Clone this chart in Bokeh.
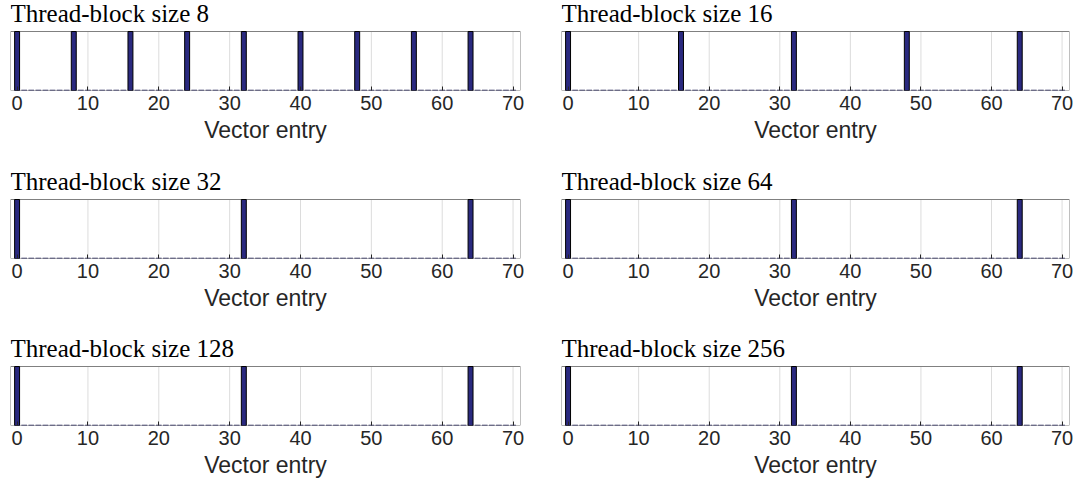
from bokeh.plotting import figure
from bokeh.layouts import column, row
from bokeh.models import Range1d, FixedTicker
from bokeh.core.properties import value
from bokeh.embed import file_html
from bokeh.resources import INLINE

# ---- data ----
block_sizes = [8, 16, 32, 64, 128, 256]
entries = list(range(0, 71))
hits_8 = [0, 8, 16, 24, 32, 40, 48, 56, 64]
hits_16 = [0, 16, 32, 48, 64]
hits_32 = [0, 32, 64]
hits_64 = [0, 32, 64]
hits_128 = [0, 32, 64]
hits_256 = [0, 32, 64]
all_hits = [hits_8, hits_16, hits_32, hits_64, hits_128, hits_256]
x_ticks = [0, 10, 20, 30, 40, 50, 60, 70]
X_MIN, X_MAX = -0.93, 71.05

BAR_FILL = "#2a297f"
TICK_COLOR = "#262626"

ROW_HEIGHTS = [168, 167, 155]
ROW_BOTTOM = [78, 77, 65]
BOX_PX = 59.0          # height of the bar box in pixels
FRAME_PX = 90.0        # frame height (box + title strip)
Y_TOP = FRAME_PX / BOX_PX
TITLE_Y = 1 + 18.5 / BOX_PX


def make_panel(bs, hits, left_col, row_idx):
    width = 540 if left_col else 536
    height = ROW_HEIGHTS[row_idx]
    p = figure(width=width, height=height, output_backend="svg",
               toolbar_location=None, tools="",
               x_range=Range1d(X_MIN, X_MAX), y_range=Range1d(0, Y_TOP))
    p.min_border_left = 10 if left_col else 21
    p.min_border_right = 20 if left_col else 7
    p.min_border_top = 0
    p.min_border_bottom = ROW_BOTTOM[row_idx]

    p.outline_line_color = None
    p.background_fill_color = "white"
    p.border_fill_color = "white"

    p.yaxis.visible = False
    p.grid.visible = False

    ax = p.xaxis[0]
    ax.ticker = FixedTicker(ticks=x_ticks)
    ax.axis_line_color = None
    ax.major_tick_in = 4
    ax.major_tick_out = 0
    ax.major_tick_line_color = TICK_COLOR
    ax.minor_tick_line_color = None
    ax.major_label_text_font = "Liberation Sans"
    ax.major_label_text_font_size = "20px"
    ax.major_label_text_color = TICK_COLOR
    ax.major_label_standoff = 5
    ax.axis_label = "Vector entry"
    ax.axis_label_text_font = "Liberation Sans"
    ax.axis_label_text_font_size = "23px"
    ax.axis_label_text_font_style = "normal"
    ax.axis_label_text_color = TICK_COLOR
    ax.axis_label_standoff = 4

    # vertical grid lines inside the box
    p.segment(x0=x_ticks, x1=x_ticks, y0=[0] * len(x_ticks), y1=[1] * len(x_ticks),
              line_color="#dcdcdc", line_width=1)

    # box
    p.quad(left=[X_MIN], right=[X_MAX], bottom=[0], top=[1],
           fill_color=None, line_color="#808080", line_width=1)

    # baseline of zero-height bars (dashed look)
    half = 0.4
    p.segment(x0=[e - half for e in entries], x1=[e + half for e in entries],
              y0=[0] * len(entries), y1=[0] * len(entries),
              line_color="#1c1c50", line_width=1.5)
    tops = [1 for _ in hits]
    p.vbar(x=hits, top=tops, bottom=0, width=0.7,
           fill_color=BAR_FILL, line_color="black", line_width=1)

    # panel title
    p.text(x=[X_MIN], y=[TITLE_Y], text=["Thread-block size %d" % bs],
           text_font=value("Liberation Serif"), text_font_size=value("25px"),
           text_color="black", text_align="left", text_baseline="alphabetic")
    return p


panels = []
for i, (bs, hits) in enumerate(zip(block_sizes, all_hits)):
    panels.append(make_panel(bs, hits, i % 2 == 0, i // 2))

layout = column(
    row(panels[0], panels[1]),
    row(panels[2], panels[3]),
    row(panels[4], panels[5]),
)

open("out.html", "w").write(file_html(layout, INLINE))
